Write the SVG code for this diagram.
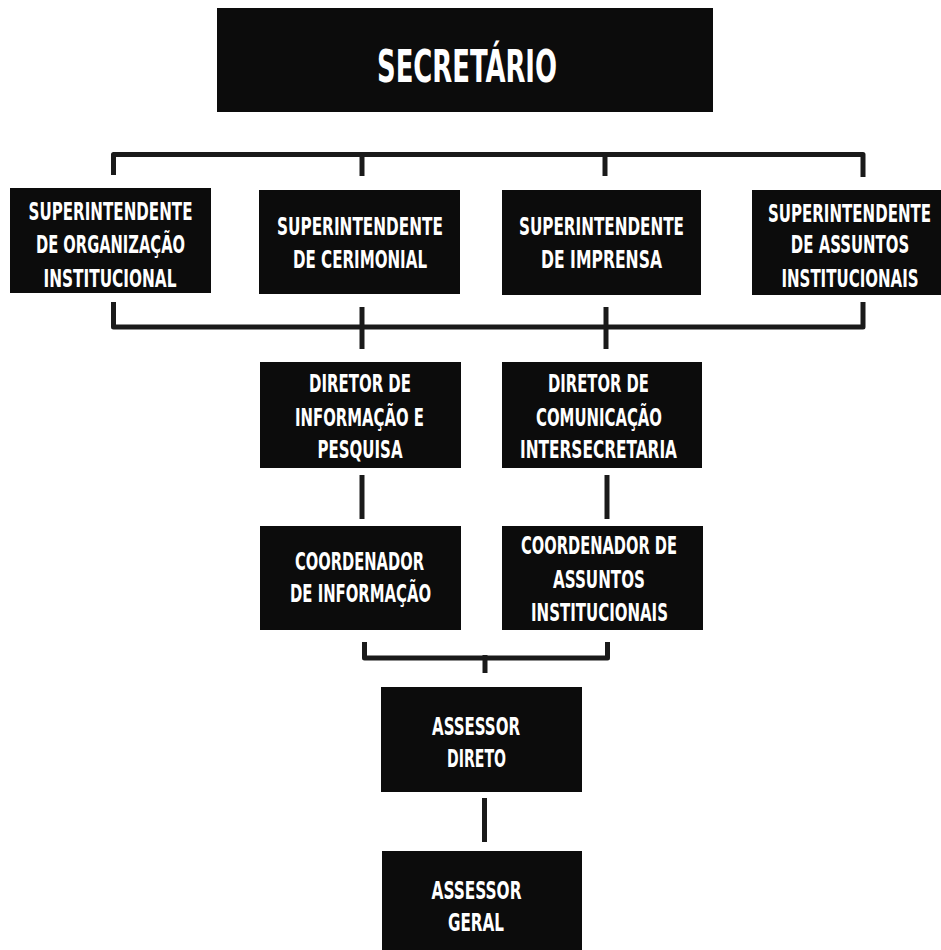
<svg xmlns="http://www.w3.org/2000/svg" width="941" height="950" viewBox="0 0 941 950">
<style>
.box{fill:#0c0c0c}
.t{fill:#ffffff;font-family:"DejaVu Sans Condensed","Liberation Sans Narrow","Liberation Sans",sans-serif;font-weight:bold;font-size:25px;text-anchor:middle}
.big{font-size:45px}
.ln{fill:none;stroke:#1a1a1a;stroke-width:5;stroke-linejoin:round}
</style>
<rect width="941" height="950" fill="#ffffff"/>
<g id="connectors">
<path class="ln" d="M113.5 175 V154.5 H863 V177"/>
<path class="ln" d="M362 154.5 V176"/>
<path class="ln" d="M605 154.5 V176"/>
<path class="ln" d="M113.5 302 V327 H863 V302"/>
<path class="ln" d="M362 307 V349"/>
<path class="ln" d="M606 307 V349"/>
<path class="ln" d="M362 475 V519"/>
<path class="ln" d="M607 475 V519"/>
<path class="ln" d="M364.5 642 V658 H607.5 V642"/>
<path class="ln" d="M485 655 V673"/>
<path class="ln" d="M484.5 798 V842"/>
</g>
<g id="secretario">
<rect class="box" x="217" y="8" width="496" height="104"/>
<text class="t big" x="467" y="82" textLength="180" lengthAdjust="spacingAndGlyphs">SECRETÁRIO</text>
</g>
<g id="sup-organizacao">
<rect class="box" x="10" y="188" width="201" height="105"/>
<text class="t" x="110.5" y="220" textLength="164" lengthAdjust="spacingAndGlyphs">SUPERINTENDENTE</text>
<text class="t" x="110.5" y="253" textLength="149" lengthAdjust="spacingAndGlyphs">DE ORGANIZAÇÃO</text>
<text class="t" x="110" y="287" textLength="133" lengthAdjust="spacingAndGlyphs">INSTITUCIONAL</text>
</g>
<g id="sup-cerimonial">
<rect class="box" x="259" y="190" width="201" height="104"/>
<text class="t" x="360" y="235" textLength="166" lengthAdjust="spacingAndGlyphs">SUPERINTENDENTE</text>
<text class="t" x="360" y="268" textLength="134" lengthAdjust="spacingAndGlyphs">DE CERIMONIAL</text>
</g>
<g id="sup-imprensa">
<rect class="box" x="502" y="190" width="199" height="105"/>
<text class="t" x="601.5" y="235" textLength="165" lengthAdjust="spacingAndGlyphs">SUPERINTENDENTE</text>
<text class="t" x="601.5" y="268" textLength="121" lengthAdjust="spacingAndGlyphs">DE IMPRENSA</text>
</g>
<g id="sup-assuntos">
<rect class="box" x="752" y="190" width="189" height="105"/>
<text class="t" transform="translate(849.5 222) scale(0.7 1)" x="0" y="0" textLength="233" lengthAdjust="spacingAndGlyphs">SUPERINTENDENTE</text>
<text class="t" transform="translate(850 253) scale(0.7 1)" x="0" y="0" textLength="169" lengthAdjust="spacingAndGlyphs">DE ASSUNTOS</text>
<text class="t" transform="translate(850 287) scale(0.7 1)" x="0" y="0" textLength="196" lengthAdjust="spacingAndGlyphs">INSTITUCIONAIS</text>
</g>
<g id="dir-informacao">
<rect class="box" x="260" y="362" width="201" height="106"/>
<text class="t" x="360" y="392" textLength="102" lengthAdjust="spacingAndGlyphs">DIRETOR DE</text>
<text class="t" x="359.5" y="426" textLength="129" lengthAdjust="spacingAndGlyphs">INFORMAÇÃO E</text>
<text class="t" x="360" y="458" textLength="85" lengthAdjust="spacingAndGlyphs">PESQUISA</text>
</g>
<g id="dir-comunicacao">
<rect class="box" x="502" y="362" width="200" height="106"/>
<text class="t" x="598.5" y="392" textLength="101" lengthAdjust="spacingAndGlyphs">DIRETOR DE</text>
<text class="t" x="599" y="426" textLength="126" lengthAdjust="spacingAndGlyphs">COMUNICAÇÃO</text>
<text class="t" x="598.5" y="458" textLength="157" lengthAdjust="spacingAndGlyphs">INTERSECRETARIA</text>
</g>
<g id="coord-informacao">
<rect class="box" x="260" y="526" width="201" height="104"/>
<text class="t" x="359.5" y="570" textLength="129" lengthAdjust="spacingAndGlyphs">COORDENADOR</text>
<text class="t" x="360.5" y="602" textLength="141" lengthAdjust="spacingAndGlyphs">DE INFORMAÇÃO</text>
</g>
<g id="coord-assuntos">
<rect class="box" x="502" y="526" width="201" height="104"/>
<text class="t" x="599" y="554" textLength="156" lengthAdjust="spacingAndGlyphs">COORDENADOR DE</text>
<text class="t" x="599" y="588" textLength="92" lengthAdjust="spacingAndGlyphs">ASSUNTOS</text>
<text class="t" x="599.5" y="621" textLength="137" lengthAdjust="spacingAndGlyphs">INSTITUCIONAIS</text>
</g>
<g id="assessor-direto">
<rect class="box" x="381" y="687" width="201" height="105"/>
<text class="t" x="476" y="735" textLength="88" lengthAdjust="spacingAndGlyphs">ASSESSOR</text>
<text class="t" x="476.5" y="767" textLength="59" lengthAdjust="spacingAndGlyphs">DIRETO</text>
</g>
<g id="assessor-geral">
<rect class="box" x="382" y="851" width="200" height="99"/>
<text class="t" x="476.5" y="899" textLength="90" lengthAdjust="spacingAndGlyphs">ASSESSOR</text>
<text class="t" x="476" y="931" textLength="56" lengthAdjust="spacingAndGlyphs">GERAL</text>
</g>
</svg>
